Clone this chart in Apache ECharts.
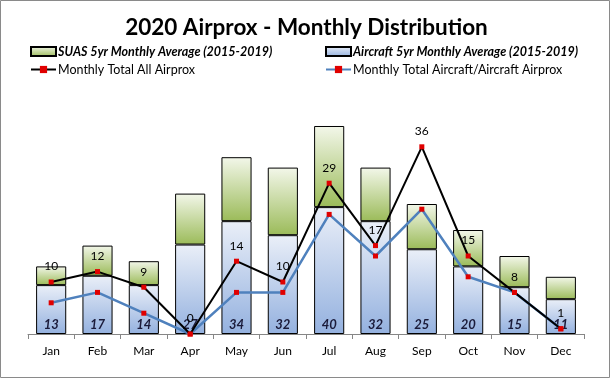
<!DOCTYPE html>
<html><head><meta charset="utf-8">
<script src="https://cdn.jsdelivr.net/npm/echarts@6/dist/echarts.min.js"></script>
<style>html,body{margin:0;padding:0;background:#fff}#c{width:613px;height:381px}</style>
</head><body><div id="c"></div>
<script>
var months = ['Jan','Feb','Mar','Apr','May','Jun','Jul','Aug','Sep','Oct','Nov','Dec'];
var aircraftAvg = [9.4, 11.2, 9.4, 17.2, 21.7, 19.0, 24.4, 21.7, 16.3, 13.0, 9.0, 6.7];
var suasAvg = [3.6, 5.8, 4.6, 9.8, 12.3, 13.0, 15.6, 10.3, 8.7, 7.0, 6.0, 4.3];
var totalAll = [10, 12, 9, 0, 14, 10, 29, 17, 36, 15, 8, 1];
var totalAircraft = [6, 8, 4, 0, 8, 8, 23, 15, 24, 11, 8, 1];

var FONT = 'Lato, "Open Sans", sans-serif';
var chart = echarts.init(document.getElementById('c'));
function grad(top, bottom){
  return new echarts.graphic.LinearGradient(0,0,0,1,[{offset:0,color:top},{offset:1,color:bottom}]);
}
var greenFill = grad('#f3f7ea', '#9bbb59');
var blueFill = grad('#eaeff8', '#94b1df');
function legendAt(name, left, top, bold, icon){
  var l = {
    data:[name], left:left, top:top, itemWidth:25, itemHeight:9, itemGap:0,
    textStyle:{fontFamily:FONT, fontSize:12.5, color:'#000', fontWeight: bold?'bold':'normal', fontStyle: bold?'italic':'normal', padding:[0,0,0,-3]},
    padding:0, selectedMode:false
  };
  if (icon) l.icon = icon;
  return l;
}
chart.setOption({
  animation:false,
  backgroundColor:'#fff',
  title:{text:'2020 Airprox - Monthly Distribution', left:'center', top:11,
    textStyle:{fontFamily:FONT, fontSize:22.5, fontWeight:'bold', color:'#000'}},
  legend:[
    legendAt('SUAS 5yr Monthly Average (2015-2019)', 30, 45, true, 'rect'),
    legendAt('Aircraft 5yr Monthly Average (2015-2019)', 325, 45, true, 'rect'),
    legendAt('Monthly Total All Airprox', 30, 63, false),
    legendAt('Monthly Total Aircraft/Aircraft Airprox', 325, 63, false)
  ],
  grid:{left:28, right:29, top:100, bottom:47},
  xAxis:{type:'category', data:months, boundaryGap:true,
    axisLine:{lineStyle:{color:'#868686', width:1}},
    axisTick:{show:true, length:5, lineStyle:{color:'#868686'}},
    axisLabel:{fontFamily:FONT, fontSize:12, color:'#000', margin:11}},
  yAxis:{type:'value', min:0, max:45, show:false, splitLine:{show:false}},
  graphic:[{type:'rect', shape:{x:0.5,y:0.5,width:609,height:377}, style:{fill:null, stroke:'#8a8a8a', lineWidth:1}, silent:true, z:-1}],
  series:[
    {name:'Aircraft 5yr Monthly Average (2015-2019)', type:'bar', stack:'avg', data:aircraftAvg,
      barCategoryGap:'35%',
      itemStyle:{color:blueFill, borderColor:'#000', borderWidth:1},
      label:{show:true, position:'insideBottom', distance:3,
        fontFamily:FONT, fontSize:13, fontWeight:'bold', fontStyle:'italic', color:'#1b1b3a',
        formatter:function(p){return Math.round(aircraftAvg[p.dataIndex]+suasAvg[p.dataIndex]);}}},
    {name:'SUAS 5yr Monthly Average (2015-2019)', type:'bar', stack:'avg', data:suasAvg,
      itemStyle:{color:greenFill, borderColor:'#000', borderWidth:1}},
    {name:'Monthly Total All Airprox', type:'line', data:totalAll, z:5,
      lineStyle:{color:'#000', width:2}, itemStyle:{color:'#e00000', borderWidth:0},
      symbol:'rect', symbolSize:5, showAllSymbol:true,
      label:{show:true, position:'top', distance:7, fontFamily:FONT, fontSize:12, color:'#000'}},
    {name:'Monthly Total Aircraft/Aircraft Airprox', type:'line', data:totalAircraft, z:4,
      lineStyle:{color:'#4f81bd', width:2.5}, itemStyle:{color:'#e00000', borderWidth:0},
      symbol:'rect', symbolSize:5, showAllSymbol:true}
  ]
});
</script></body></html>
